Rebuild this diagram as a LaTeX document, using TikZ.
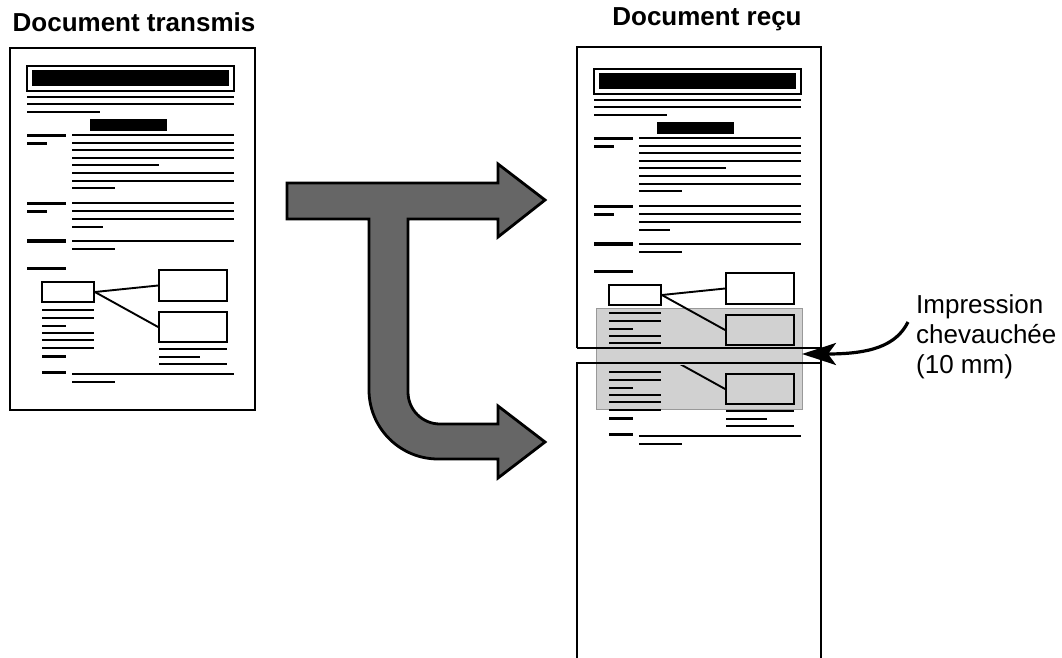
\documentclass[tikz,border=0pt]{standalone}
\usepackage{fontspec}
\setmainfont{Liberation Sans}
\usetikzlibrary{arrows.meta}
\tikzset{
  tl/.style={line width=1.7pt},
  tk/.style={line width=3pt},
  pageline/.style={line width=2.8pt},
  docbox/.style={draw, line width=1.8pt, inner sep=0pt},
  title/.style={font=\fontsize{26}{30}\selectfont\bfseries, anchor=base, inner sep=0pt},
  shade/.style={fill=black!18, draw=black!40, line width=0.6pt},
  bigarrow/.style={fill=black!60, draw=black, line width=2.8pt, line join=miter},
}
\newcommand\docbody{%
  \draw[tl] (27,66) rectangle (234,91);
  \fill (32,70) rectangle (229,86);
  \draw[tl] (27,97) -- (234,97);
  \draw[tl] (27,104) -- (234,104);
  \draw[tl] (27,112) -- (100,112);
  \fill (90,119) rectangle (167,131);
  \draw[tk] (27,135) -- (66,135);
  \draw[tk] (27,143) -- (47,143);
  \foreach \yy in {135,143,150,158,173,181} {\draw[tl] (72,\yy) -- (234,\yy);}
  \draw[tl] (72,165) -- (159,165);
  \draw[tl] (72,188) -- (115,188);
  \draw[tk] (27,203) -- (66,203);
  \draw[tk] (27,211) -- (47,211);
  \foreach \yy in {203,211,219} {\draw[tl] (72,\yy) -- (234,\yy);}
  \draw[tl] (72,227) -- (103,227);
  \draw[line width=3.8pt] (27,241) -- (66,241);
  \draw[tl] (72,241) -- (234,241);
  \draw[tl] (72,249) -- (115,249);
  \draw[tk] (27,268) -- (66,268);
  \node[docbox, minimum width=52pt, minimum height=20pt] (sb) at (68,292) {};
  \node[docbox, minimum width=68pt, minimum height=31pt] (ba) at (193,285.5) {};
  \node[docbox, minimum width=68pt, minimum height=30pt] (bb) at (193,327) {};
  \draw[line width=1.9pt] (sb.east) -- (ba.west);
  \draw[line width=1.9pt] (sb.east) -- (bb.west);
  \foreach \yy in {310,318,333,340,348} {\draw[tl] (42,\yy) -- (94,\yy);}
  \draw[tl] (42,326) -- (66,326);
  \draw[tk] (42,356) -- (66,356);
  \draw[tl] (159,349) -- (227,349);
  \draw[tl] (159,357) -- (200,357);
  \draw[tl] (159,364) -- (227,364);
  \draw[tk] (42,372) -- (66,372);
  \draw[tl] (72,374) -- (234,374);
  \draw[tl] (72,382) -- (115,382);
}
\begin{document}
\begin{tikzpicture}[x=1pt, y=-1pt]
\useasboundingbox (0,0) rectangle (1062,658);
% titles
\node[title] (t1) at (134,32) {Document transmis};
\node[title] (t2) at (707,26) {Document reçu};
% left document
\docbody
\draw[pageline] (10,48) rectangle (255,410);
% big arrow
\draw[bigarrow] (287,183) -- (498,183) -- (498,164) -- (545,200) -- (498,237) -- (498,219)
  -- (408,219) -- (408,392) .. controls (408,409.7) and (422.3,424) .. (440,424)
  -- (498,424) -- (498,406) -- (545,442) -- (498,478) -- (498,459)
  -- (438,459) .. controls (400,459) and (369,428) .. (369,390)
  -- (369,219) -- (287,219) -- cycle;
% overlap shading
\draw[shade] (596,308) rectangle (802,409);
% received document, upper page
\begin{scope}
  \clip (560,40) rectangle (830,347);
  \begin{scope}[shift={(567,3)}]\docbody\end{scope}
\end{scope}
% received document, lower page
\begin{scope}
  \clip (560,365) rectangle (830,658);
  \begin{scope}[shift={(567,62)}]\docbody\end{scope}
\end{scope}
\draw[pageline] (577,348) -- (577,47) -- (821,47) -- (821,660);
\draw[pageline] (577,348) -- (821,348);
\draw[pageline] (577,660) -- (577,363) -- (821,363);
% annotation
\node[anchor=north west, align=left, inner sep=0pt,
      font=\fontsize{26}{30}\selectfont] (lab) at (916,294)
      {Impression\\chevauchée\\(10 mm)};
\coordinate (arrS) at (908,322);
\coordinate (arrE) at (802,354);
\draw[line width=3.2pt, -{Stealth[length=34pt,width=22pt,inset=8pt]}]
  (arrS) .. controls (896,346) and (870,354) .. (arrE);
\end{tikzpicture}
\end{document}
